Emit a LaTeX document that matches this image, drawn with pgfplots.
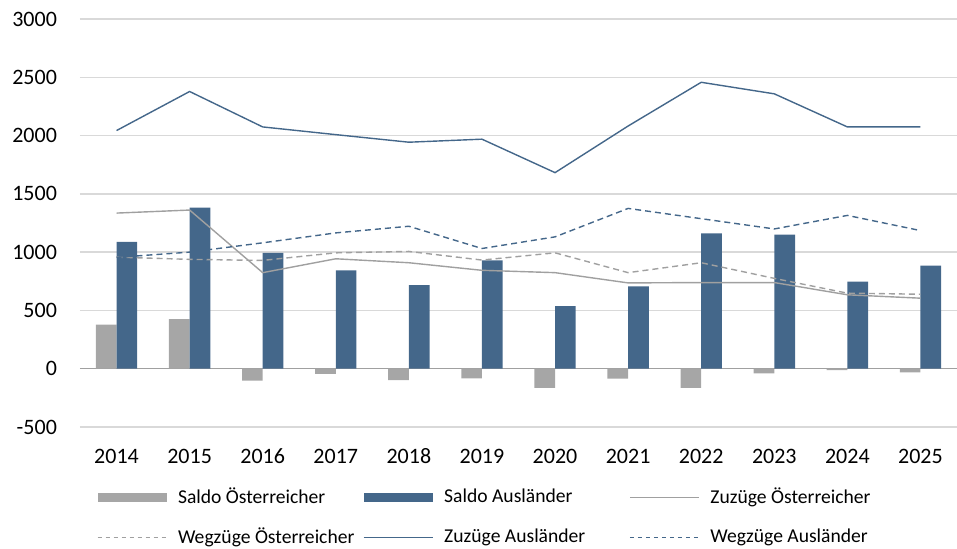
\documentclass[border=0pt]{standalone}
\usepackage{fontspec}
\setmainfont{Carlito}
\usepackage{pgfplots}
\pgfplotsset{compat=1.18}
\definecolor{barA}{HTML}{44678A}
\definecolor{barO}{HTML}{A6A6A6}
\definecolor{lineO}{HTML}{A0A0A0}
\definecolor{gridc}{HTML}{D9D9D9}
\definecolor{zeroc}{HTML}{A0A0A0}
\begin{document}
\begin{tikzpicture}
\begin{axis}[
  scale only axis,
  width=438.5pt, height=204pt,
  xmin=-0.5, xmax=11.5,
  ymin=-500, ymax=3000,
  xtick={0,...,11},
  xticklabels={2014,2015,2016,2017,2018,2019,2020,2021,2022,2023,2024,2025},
  ytick={-500,0,500,1000,1500,2000,2500,3000},
  major tick length=0pt,
  axis line style={draw=none},
  ymajorgrids,
  grid style={draw=gridc, line width=0.75pt},
  extra y ticks={0},
  extra y tick labels={},
  extra y tick style={grid style={draw=zeroc, line width=0.7pt}},
  tick label style={font=\fontsize{11}{13}\selectfont},
  /pgf/number format/assume math mode=true,
  yticklabel style={xshift=-8pt},
  xticklabel style={anchor=base, yshift=-18.5pt},
  scaled y ticks=false,
  yticklabel={\pgfmathprintnumber[1000 sep={}]{\tick}},
  legend columns=3,
  legend style={at={(axis description cs:0.0194,-0.15)}, anchor=north west,
    draw=none, fill=none, inner sep=0pt, outer sep=0pt,
    font=\fontsize{9.8}{12}\selectfont,
    nodes={inner sep=0pt},
    /tikz/every odd column/.append style={column sep=5.5pt},
    /tikz/every even column/.append style={column sep=0pt},
    row sep=10.5pt},
  legend cell align=left,
]
\addplot[ybar, bar width=10.35pt, bar shift=-5.175pt, fill=barO, draw=none,
  legend image code/.code={\fill[barO] (0pt,-2.2pt) rectangle (34.5pt,2.2pt);}]
  coordinates {(0,378) (1,426) (2,-102) (3,-45) (4,-97) (5,-82) (6,-165) (7,-85) (8,-165) (9,-40) (10,-12) (11,-31)};
\addlegendentry{\makebox[92.5pt][l]{Saldo Österreicher}}
\addplot[ybar, bar width=10.35pt, bar shift=5.175pt, fill=barA, draw=none,
  legend image code/.code={\fill[barA] (0pt,-2.2pt) rectangle (34.5pt,2.2pt);}]
  coordinates {(0,1088) (1,1381) (2,994) (3,844) (4,716) (5,929) (6,537) (7,707) (8,1162) (9,1151) (10,747) (11,884)};
\addlegendentry{\makebox[92.5pt][l]{Saldo Ausländer}}
\addplot[lineO, line width=0.7pt, mark=none,
  legend image code/.code={\draw[lineO, line width=0.6pt] (0pt,0pt) -- (34.5pt,0pt);}]
  coordinates {(0,1335) (1,1361) (2,824) (3,943) (4,909) (5,844) (6,824) (7,736) (8,739) (9,739) (10,634) (11,605)};
\addlegendentry{Zuzüge Österreicher}
\addplot[lineO, line width=0.7pt, mark=none, dash pattern=on 3pt off 2pt,
  legend image code/.code={\draw[lineO, line width=0.5pt, dash pattern=on 2pt off 2pt] (0pt,0pt) -- (34.5pt,0pt);}]
  coordinates {(0,957) (1,938) (2,929) (3,994) (4,1006) (5,932) (6,994) (7,824) (8,909) (9,775) (10,648) (11,639)};
\addlegendentry{\makebox[92.5pt][l]{Wegzüge Österreicher}}
\addplot[barA, line width=0.7pt, mark=none,
  legend image code/.code={\draw[barA, line width=0.6pt] (0pt,0pt) -- (34.5pt,0pt);}]
  coordinates {(0,2043) (1,2378) (2,2074) (3,2008) (4,1943) (5,1969) (6,1682) (7,2082) (8,2457) (9,2358) (10,2074) (11,2074)};
\addlegendentry{\makebox[92.5pt][l]{Zuzüge Ausländer}}
\addplot[barA, line width=0.7pt, mark=none, dash pattern=on 3pt off 2pt,
  legend image code/.code={\draw[barA, line width=0.5pt, dash pattern=on 2pt off 2pt] (0pt,0pt) -- (34.5pt,0pt);}]
  coordinates {(0,955) (1,1000) (2,1080) (3,1165) (4,1222) (5,1031) (6,1131) (7,1375) (8,1287) (9,1199) (10,1315) (11,1185)};
\addlegendentry{Wegzüge Ausländer}
\end{axis}
\pgfresetboundingbox
\path (-40pt,-61pt) rectangle (438.5pt,213.5pt);
\end{tikzpicture}
\end{document}
